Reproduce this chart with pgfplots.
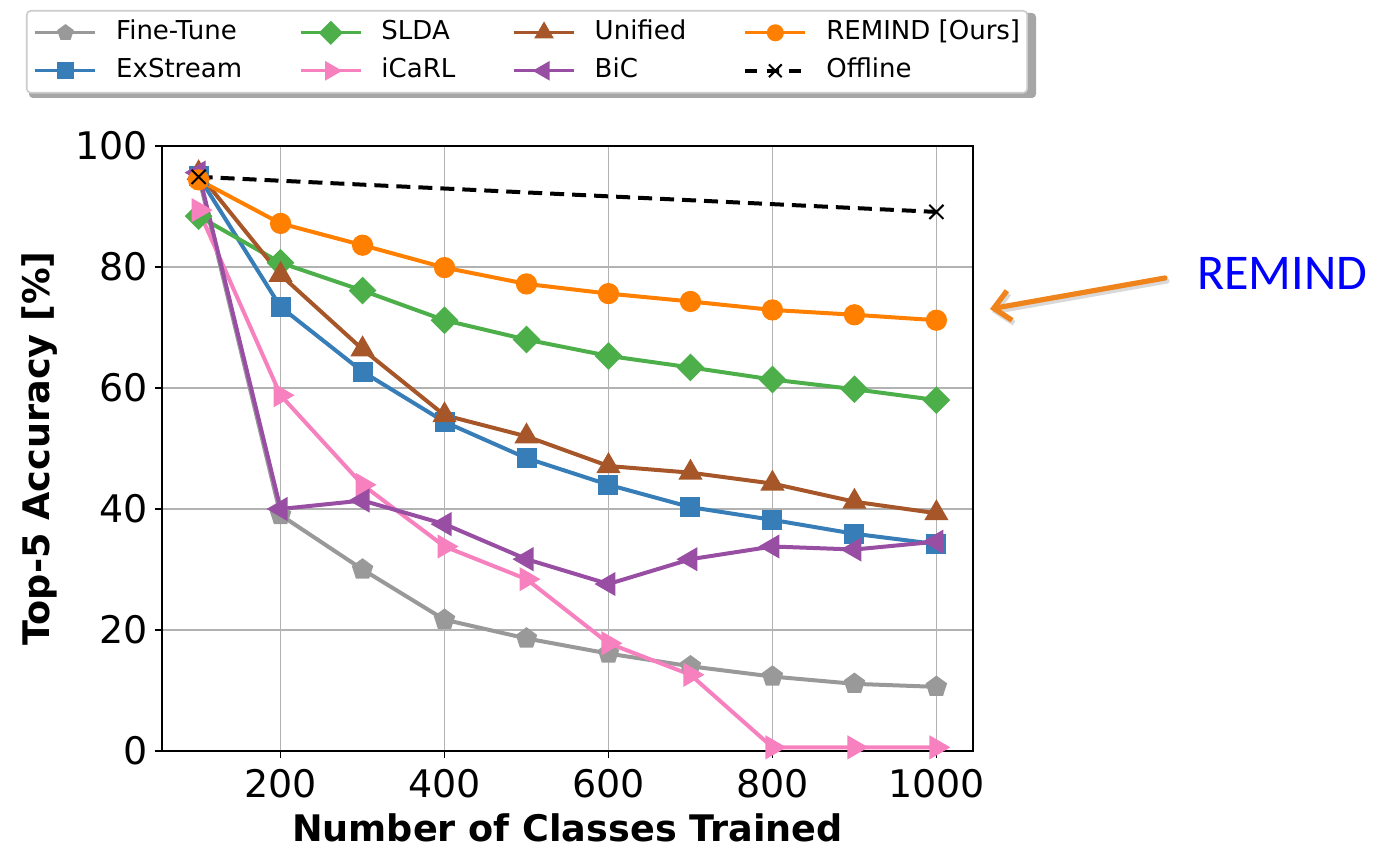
\documentclass[border=0pt]{standalone}
\usepackage{fontspec}
\setmainfont{DejaVu Sans}
\newfontfamily\calloutfont{Carlito}
\usepackage{pgfplots}
\pgfplotsset{compat=1.18}
\usetikzlibrary{arrows.meta,plotmarks}

\definecolor{cFT}{HTML}{999999}
\definecolor{cEX}{HTML}{377EB8}
\definecolor{cSL}{HTML}{4DAF4A}
\definecolor{cIC}{HTML}{F781BF}
\definecolor{cUN}{HTML}{A65628}
\definecolor{cBI}{HTML}{984EA3}
\definecolor{cRE}{HTML}{FF7F00}
\definecolor{cArrow}{HTML}{F0841C}

\pgfplotsset{
  series/.style={line width=2pt, color=#1, mark options={solid, draw=#1, fill=#1}},
}

\begin{document}
\begin{tikzpicture}
\useasboundingbox (0,0) rectangle (686.5pt,424.5pt);
% shadow under the legend box
\fill[black, opacity=0.35, rounded corners=2pt] (14.5pt,375.5pt) rectangle (518pt,418pt);
\begin{axis}[
  at={(80.85pt,49pt)}, anchor=south west,
  scale only axis, width=405.8pt, height=302.5pt,
  xmin=55, xmax=1045, ymin=0, ymax=100,
  xtick={200,400,600,800,1000}, ytick={0,20,40,60,80,100},
  xtick pos=bottom, ytick pos=left,
  tick align=outside, major tick length=3.5pt,
  tick style={black, line width=0.8pt},
  axis line style={line width=1pt},
  grid=major, major grid style={color=black!30, line width=0.7pt},
  /pgf/number format/assume math mode=true,
  /pgf/number format/1000 sep={},
  ticklabel style={font=\fontsize{19}{19}\selectfont},
  xticklabel style={yshift=-2pt},
  xlabel={Number of Classes Trained},
  ylabel={Top-5 Accuracy [\%]},
  label style={font=\fontsize{18.3}{18.3}\selectfont\bfseries},
  xlabel style={at={(axis description cs:0.5,-0.150)}, anchor=base, inner sep=0pt, text depth=0pt},
  ylabel style={yshift=2pt},
  legend columns=4,
  legend image code/.code={%
    \draw[mark repeat=2, mark phase=2, #1] plot coordinates {(0pt,0pt) (15pt,0pt) (30pt,0pt)};},
  legend style={
    at={(axis description cs:-0.1672,1.2248)}, anchor=north west,
    draw=black!20, line width=0.8pt, rounded corners=2pt, fill=white,
    inner xsep=3.5pt, inner ysep=5pt,
    font=\fontsize{13}{13}\selectfont,
    nodes={inner sep=0pt, text height=9.5pt, text depth=2.5pt, anchor=west},
    row sep=7pt,
    /tikz/every odd column/.append style={column sep=9.5pt},
    /tikz/every even column/.append style={column sep=28.5pt},
  },
]
% Fine-Tune
\addplot[series=cFT, mark=pentagon*, mark size=4.4pt, forget plot] coordinates {
  (100,95.0) (200,39.0) (300,30.0) (400,21.7) (500,18.6) (600,16.1)
  (700,14.0) (800,12.3) (900,11.1) (1000,10.6)};
% ExStream
\addplot[series=cEX, mark=square*, mark size=4pt, forget plot] coordinates {
  (100,95.0) (200,73.4) (300,62.7) (400,54.4) (500,48.4) (600,44.0)
  (700,40.3) (800,38.2) (900,35.9) (1000,34.2)};
% SLDA
\addplot[series=cSL, mark=square*, mark size=3.9pt, mark options={rotate=45}, forget plot] coordinates {
  (100,88.4) (200,80.7) (300,76.1) (400,71.2) (500,68.0) (600,65.3)
  (700,63.4) (800,61.4) (900,59.8) (1000,58.0)};
% iCaRL
\addplot[series=cIC, mark=triangle*, mark size=5pt, mark options={rotate=-90}, forget plot] coordinates {
  (100,89.4) (200,58.8) (300,44.0) (400,33.8) (500,28.4) (600,17.8)
  (700,12.6) (800,0.6) (900,0.6) (1000,0.6)};
% Unified
\addplot[series=cUN, mark=triangle*, mark size=5pt, forget plot] coordinates {
  (100,95.5) (200,78.7) (300,66.4) (400,55.5) (500,52.0) (600,47.1)
  (700,46.0) (800,44.2) (900,41.2) (1000,39.3)};
% BiC
\addplot[series=cBI, mark=triangle*, mark size=5pt, mark options={rotate=90}, forget plot] coordinates {
  (100,95.6) (200,40.0) (300,41.4) (400,37.5) (500,31.7) (600,27.6)
  (700,31.7) (800,33.8) (900,33.3) (1000,34.6)};
% REMIND
\addplot[series=cRE, mark=*, mark size=4.3pt, forget plot] coordinates {
  (100,94.4) (200,87.2) (300,83.6) (400,79.9) (500,77.2) (600,75.6)
  (700,74.3) (800,72.9) (900,72.1) (1000,71.2)};
% Offline
\addplot[line width=2pt, black, dash pattern=on 7pt off 4pt, mark=x, mark size=5pt,
  mark options={solid, line width=1pt}, forget plot] coordinates {
  (100,94.9) (1000,89.1)};

% legend entries, row by row
\addlegendimage{line width=1.7pt, cFT, mark=pentagon*, mark size=3.3pt, mark options={solid, fill=cFT}}
\addlegendentry{Fine-Tune}
\addlegendimage{line width=1.7pt, cSL, mark=square*, mark size=3.4pt, mark options={solid, fill=cSL, rotate=45}}
\addlegendentry{SLDA}
\addlegendimage{line width=1.7pt, cUN, mark=triangle*, mark size=4pt, mark options={solid, fill=cUN}}
\addlegendentry{Unified}
\addlegendimage{line width=1.7pt, cRE, mark=*, mark size=3.4pt, mark options={solid, fill=cRE}}
\addlegendentry{REMIND [Ours]}
\addlegendimage{line width=1.7pt, cEX, mark=square*, mark size=3.3pt, mark options={solid, fill=cEX}}
\addlegendentry{ExStream}
\addlegendimage{line width=1.7pt, cIC, mark=triangle*, mark size=4pt, mark options={solid, fill=cIC, rotate=-90}}
\addlegendentry{iCaRL}
\addlegendimage{line width=1.7pt, cBI, mark=triangle*, mark size=4pt, mark options={solid, fill=cBI, rotate=90}}
\addlegendentry{BiC}
\addlegendimage{line width=2pt, black, dash pattern=on 6pt off 5pt, mark=x, mark size=4.5pt, mark options={solid, line width=1pt}}
\addlegendentry{Offline}
\end{axis}

% callout pointing at the REMIND curve
\draw[line width=2.6pt, black, opacity=0.15, line cap=round, line join=round,
  -{Straight Barb[length=8pt, width=15pt]}] (583.5pt,284pt) -- (496pt,268.5pt);
\draw[line width=2.6pt, cArrow, line cap=round, line join=round,
  -{Straight Barb[length=8pt, width=15pt]}] (582.5pt,285.5pt) -- (495pt,270pt);
\node[anchor=west, inner sep=0pt, text=blue, font=\calloutfont\fontsize{25}{25}\selectfont]
  at (598.5pt,288pt) {REMIND};
\end{tikzpicture}
\end{document}
